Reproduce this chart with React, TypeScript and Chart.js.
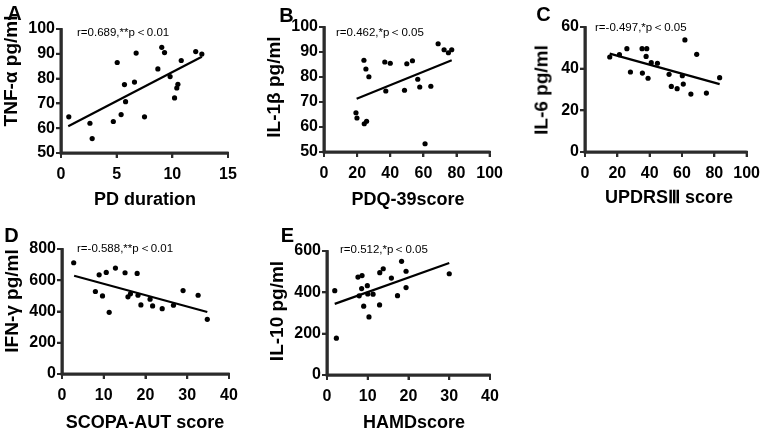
import React, { useEffect, useRef } from "react";
import { Chart, registerables } from "chart.js";
Chart.register(...registerables);

const FONT = "'Liberation Sans', Arial, Helvetica, sans-serif";
const AXIS_COLOR = "#2b2b2b";

// ---- Panel A: PD duration vs TNF-α
const aX = [0.7, 2.6, 2.8, 4.7, 5.05, 5.4, 5.7, 5.8, 6.6, 6.75, 7.5, 8.7, 9.05, 9.3, 9.8, 10.2, 10.4, 10.5, 10.8, 12.1, 12.65];
const aY = [64.6, 62.0, 55.8, 62.7, 86.5, 65.5, 77.6, 70.7, 78.6, 90.3, 64.6, 83.9, 92.6, 90.5, 80.8, 72.2, 76.2, 77.7, 87.3, 90.9, 89.9];
const aLineX = [0.65, 12.65];
const aLineY = [60.8, 88.8];

// ---- Panel B: PDQ-39 vs IL-1β
const bX = [19.3, 19.9, 24.1, 25.3, 27.1, 24.3, 25.7, 36.7, 37.3, 40, 48.6, 50, 53.4, 56.6, 57.8, 64.5, 61, 68.9, 72.5, 75.1, 77.1];
const bY = [65.7, 63.6, 86.7, 83.2, 80.1, 61.3, 62.3, 86, 74.4, 85.5, 74.7, 85.3, 86.5, 79.1, 76, 76.3, 53.3, 93.3, 90.9, 89.7, 90.9];
const bLineX = [19.7, 77.1];
const bLineY = [71.3, 86.7];

// ---- Panel C: UPDRS III vs IL-6
const cX = [15.3, 21.3, 25.9, 28.1, 35.3, 38.2, 37.8, 35.5, 39, 41, 44.8, 52, 53.4, 57, 60.2, 60.8, 61.8, 65.5, 69.1, 75.1, 83.3];
const cY = [45.6, 46.7, 49.6, 38.4, 49.6, 49.6, 45.9, 37.9, 35.4, 42.9, 42.6, 37.3, 31.5, 30.4, 36.6, 32.6, 53.8, 27.8, 46.9, 28.3, 35.7];
const cLineX = [15.3, 83.3];
const cLineY = [47.2, 32.6];

// ---- Panel D: SCOPA-AUT vs IFN-γ
const dX = [2.8, 8, 8.9, 9.7, 10.6, 11.3, 12.8, 15.1, 15.8, 16.4, 18, 18.2, 18.9, 21.1, 21.7, 24, 26.7, 29, 32.6, 34.8];
const dY = [712, 528, 635, 500, 650, 395, 678, 648, 494, 513, 644, 504, 442, 479, 436, 418, 440, 534, 504, 350];
const dLineX = [2.9, 34.8];
const dLineY = [629, 397];

// ---- Panel E: HAMD vs IL-10
const eX = [1.9, 2.3, 7.6, 7.9, 8.6, 8.5, 9, 9.9, 10, 10.3, 11.3, 12.95, 12.9, 13.8, 15.8, 17.3, 18.3, 19.4, 19.4, 30];
const eY = [408, 178, 474, 383, 481, 418, 333, 432, 392, 281, 391, 495, 339, 514, 469, 384, 550, 502, 423, 490];
const eLineX = [1.9, 30];
const eLineY = [344, 542];

const letters = ["A", "B", "C", "D", "E"];
const xTitles = ["PD duration", "PDQ-39score", "UPDRS\u2162 score", "SCOPA-AUT score", "HAMDscore"];
const yTitles = ["TNF-\u03b1 pg/ml", "IL-1\u03b2 pg/ml", "IL-6 pg/ml", "IFN-\u03b3 pg/ml", "IL-10 pg/ml"];
const notes = ["r=0.689,**p\uff1c0.01", "r=0.462,*p\uff1c0.05", "r=-0.497,*p\uff1c0.05", "r=-0.588,**p\uff1c0.01", "r=0.512,*p\uff1c0.05"];
const xRanges = [[0, 15, 5], [0, 100, 20], [0, 100, 20], [0, 40, 10], [0, 40, 10]];
const yRanges = [[50, 100, 10], [50, 100, 10], [0, 60, 20], [0, 800, 200], [0, 600, 200]];
const seriesX = [aX, bX, cX, dX, eX];
const seriesY = [aY, bY, cY, dY, eY];
const linesX = [aLineX, bLineX, cLineX, dLineX, eLineX];
const linesY = [aLineY, bLineY, cLineY, dLineY, eLineY];

// canvas boxes and chart areas (l,t,r,b in canvas coords)
const layouts = [
  { left: 0, top: 0, w: 255, h: 215, area: [61, 29, 228, 153] },
  { left: 255, top: 0, w: 255, h: 215, area: [69, 27, 235, 152] },
  { left: 510, top: 0, w: 257, h: 215, area: [75, 27, 241, 152] },
  { left: 0, top: 215, w: 255, h: 215, area: [62, 34, 229, 159] },
  { left: 255, top: 215, w: 255, h: 215, area: [72, 36, 235, 160] },
];
// text anchors (page coords): letter centre, y-title centre, x-title centre, note left/centre-y
const textPos = [
  { letter: [14.5, 12.5], yT: [10, 71], xT: [145, 199], note: [77, 33] },
  { letter: [286.5, 15], yT: [273, 87], xT: [408, 199], note: [336, 33] },
  { letter: [543.5, 14], yT: [541, 90], xT: [669, 197], note: [595, 28] },
  { letter: [11.5, 235], yT: [11, 301], xT: [145, 422], note: [77, 249] },
  { letter: [287.5, 235], yT: [276, 311], xT: [414, 422], note: [340, 250] },
];

const TICK_LEN = 5;
const AXIS_W = 2.6;
const TICK_W = 2;

function Panel({ i }: { i: number }) {
  const ref = useRef<HTMLCanvasElement>(null);
  const lay = layouts[i];
  useEffect(() => {
    const canvas = ref.current!;
    const pts = seriesX[i].map((x, k) => ({ x, y: seriesY[i][k] }));
    const reg = linesX[i].map((x, k) => ({ x, y: linesY[i][k] }));
    const xr = xRanges[i];
    const yr = yRanges[i];
    const axesPlugin = {
      id: "panelAxes" + i,
      afterDraw(chart: any) {
        const c = chart.ctx as CanvasRenderingContext2D;
        const xs = chart.scales.x;
        const ys = chart.scales.y;
        const x0 = xs.getPixelForValue(xr[0]);
        const x1 = xs.getPixelForValue(xr[1]);
        const y0 = ys.getPixelForValue(yr[0]);
        const y1 = ys.getPixelForValue(yr[1]);
        const hw = AXIS_W / 2;
        c.save();
        c.fillStyle = AXIS_COLOR;
        c.fillRect(x0 - hw, y1 - TICK_W / 2, AXIS_W, y0 - y1 + TICK_W / 2 + hw);
        c.fillRect(x0 - hw, y0 - hw, x1 - x0 + hw + TICK_W / 2, AXIS_W);
        ys.ticks.forEach((t: any) => {
          const py = ys.getPixelForValue(t.value);
          c.fillRect(x0 - TICK_LEN, py - TICK_W / 2, TICK_LEN, TICK_W);
        });
        xs.ticks.forEach((t: any) => {
          const px = xs.getPixelForValue(t.value);
          c.fillRect(px - TICK_W / 2, y0, TICK_W, TICK_LEN);
        });
        c.restore();
      },
    };
    const chart = new Chart(canvas, {
      type: "scatter",
      data: {
        datasets: [
          { data: pts, backgroundColor: "#000", borderColor: "#000", pointRadius: 2.6, pointBorderWidth: 0, showLine: false },
          { data: reg, borderColor: "#000", backgroundColor: "#000", borderWidth: 2.2, pointRadius: 0, showLine: true, fill: false },
          {
            data: [{ x: xr[0], y: yr[1] }, { x: xr[0], y: yr[0] }, { x: xr[1], y: yr[0] }],
            borderColor: AXIS_COLOR, backgroundColor: AXIS_COLOR, borderWidth: AXIS_W, pointRadius: 0, showLine: true, fill: false, clip: false,
          },
        ],
      },
      options: {
        responsive: false,
        animation: false,
        devicePixelRatio: 1,
        layout: { padding: { left: 0, top: lay.area[1], right: lay.w - lay.area[2], bottom: 0 } },
        plugins: { legend: { display: false }, tooltip: { enabled: false } },
        scales: {
          x: {
            type: "linear", min: xr[0], max: xr[1],
            ticks: { stepSize: xr[2], font: { family: FONT, size: 16, weight: "bold" }, color: "#000", padding: 7, maxRotation: 0, autoSkip: false },
            grid: { display: true, drawOnChartArea: false, drawTicks: true, tickLength: TICK_LEN, color: AXIS_COLOR, lineWidth: TICK_W },
            border: { display: true, color: AXIS_COLOR, width: AXIS_W },
            afterFit: (s: any) => { s.height = lay.h - lay.area[3]; },
          },
          y: {
            type: "linear", min: yr[0], max: yr[1],
            ticks: { stepSize: yr[2], font: { family: FONT, size: 16, weight: "bold" }, color: "#000", padding: 1, autoSkip: false },
            grid: { display: true, drawOnChartArea: false, drawTicks: true, tickLength: TICK_LEN, color: AXIS_COLOR, lineWidth: TICK_W },
            border: { display: true, color: AXIS_COLOR, width: AXIS_W },
            afterFit: (s: any) => { s.width = lay.area[0]; },
          },
        },
      } as any,
      plugins: [axesPlugin],
    });
    return () => chart.destroy();
  }, []);
  return (
    <canvas
      ref={ref}
      width={lay.w}
      height={lay.h}
      style={{ position: "absolute", left: lay.left, top: lay.top, width: lay.w, height: lay.h }}
    />
  );
}

const baseText: React.CSSProperties = {
  position: "absolute",
  fontFamily: FONT,
  color: "#000",
  lineHeight: 1,
  whiteSpace: "nowrap",
};

function Labels({ i }: { i: number }) {
  const p = textPos[i];
  return (
    <>
      <div style={{ ...baseText, left: p.letter[0], top: p.letter[1], fontSize: 20, fontWeight: "bold", transform: "translate(-50%,-50%)" }}>
        {letters[i]}
      </div>
      <div style={{ ...baseText, left: p.xT[0], top: p.xT[1], fontSize: 18, fontWeight: "bold", transform: "translate(-50%,-50%)" }}>
        {xTitles[i]}
      </div>
      <div style={{ ...baseText, left: p.yT[0], top: p.yT[1], fontSize: 19, fontWeight: "bold", transform: "translate(-50%,-50%) rotate(-90deg)" }}>
        {yTitles[i]}
      </div>
      <div style={{ ...baseText, left: p.note[0], top: p.note[1], fontSize: 11.5, transform: "translateY(-50%)" }}>
        {notes[i]}
      </div>
    </>
  );
}

export default function App() {
  return (
    <div style={{ position: "absolute", left: 0, top: 0, width: 767, height: 430, background: "#fff", overflow: "hidden" }}>
      {[0, 1, 2, 3, 4].map((i) => (
        <Panel key={"c" + i} i={i} />
      ))}
      {[0, 1, 2, 3, 4].map((i) => (
        <Labels key={"t" + i} i={i} />
      ))}
    </div>
  );
}
